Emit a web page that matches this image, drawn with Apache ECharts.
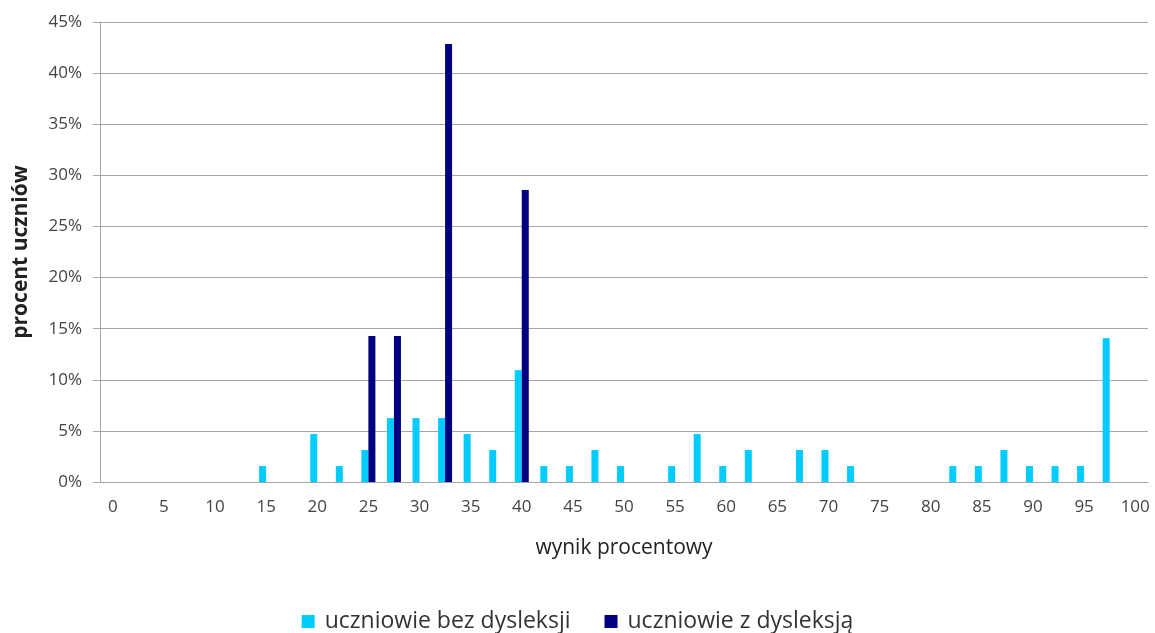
<!DOCTYPE html>
<html>
<head>
<meta charset="utf-8">
<script src="https://cdn.jsdelivr.net/npm/echarts@6/dist/echarts.min.js"></script>
<style>html,body{margin:0;padding:0;background:#fff}#c{width:1155px;height:633px}</style>
</head>
<body>
<div id="c"></div>
<script>
// categories: score in percent, step 2.5
var categories = ['0','2.5','5','7.5','10','12.5','15','17.5','20','22.5','25','27.5','30','32.5','35','37.5','40','42.5','45','47.5','50','52.5','55','57.5','60','62.5','65','67.5','70','72.5','75','77.5','80','82.5','85','87.5','90','92.5','95','97.5','100'];
// uczniowie bez dysleksji (% of students)
var bezDysleksji = [0,0,0,0,0,0,1.56,0,4.69,1.56,3.13,6.25,6.25,6.25,4.69,3.13,10.94,1.56,1.56,3.13,1.56,0,1.56,4.69,1.56,3.13,0,3.13,3.13,1.56,0,0,0,1.56,1.56,3.13,1.56,1.56,1.56,14.06,0];
// uczniowie z dysleksją (% of students)
var zDysleksja = [0,0,0,0,0,0,0,0,0,0,14.29,14.29,0,42.86,0,0,28.57,0,0,0,0,0,0,0,0,0,0,0,0,0,0,0,0,0,0,0,0,0,0,0,0];
var seriesNames = ['uczniowie bez dysleksji','uczniowie z dysleksją'];

var font = 'Open Sans';
var chart = echarts.init(document.getElementById('c'));
chart.setOption({
  animation: false,
  textStyle: {fontFamily: font},
  grid: {left: 100, right: 7, top: 22, bottom: 151, outerBoundsMode: 'none', containLabel: false},
  legend: {
    bottom: -5, left: 'center',
    itemWidth: 13, itemHeight: 13, itemGap: 34,
    icon: 'rect',
    textStyle: {fontFamily: font, fontSize: 23, color: '#333', padding: [0, 0, 0, 5]},
    data: seriesNames
  },
  xAxis: {
    type: 'category',
    data: categories,
    name: 'wynik procentowy',
    nameLocation: 'middle',
    nameGap: 56,
    nameTextStyle: {fontFamily: font, fontSize: 21, color: '#222'},
    axisLine: {lineStyle: {color: '#a6a6a6', width: 1}},
    axisTick: {show: false},
    axisLabel: {interval: 1, fontSize: 17, color: '#444', margin: 17, fontFamily: font}
  },
  yAxis: {
    type: 'value',
    min: 0, max: 45, interval: 5,
    name: 'procent uczniów',
    nameLocation: 'middle',
    nameGap: 68,
    nameTextStyle: {fontFamily: font, fontSize: 21, fontWeight: 'bold', color: '#222'},
    axisLine: {show: true, lineStyle: {color: '#a6a6a6'}},
    axisTick: {show: true, length: 7, lineStyle: {color: '#a6a6a6'}},
    axisLabel: {formatter: '{value}%', fontSize: 17, color: '#444', margin: 18, fontFamily: font},
    splitLine: {lineStyle: {color: '#a6a6a6', width: 1}}
  },
  series: [
    {name: seriesNames[0], type: 'bar', data: bezDysleksji, barWidth: 7, barGap: '0%', itemStyle: {color: '#00ccff'}},
    {name: seriesNames[1], type: 'bar', data: zDysleksja, barWidth: 7, barGap: '0%', itemStyle: {color: '#000080'}}
  ]
});
</script>
</body>
</html>
